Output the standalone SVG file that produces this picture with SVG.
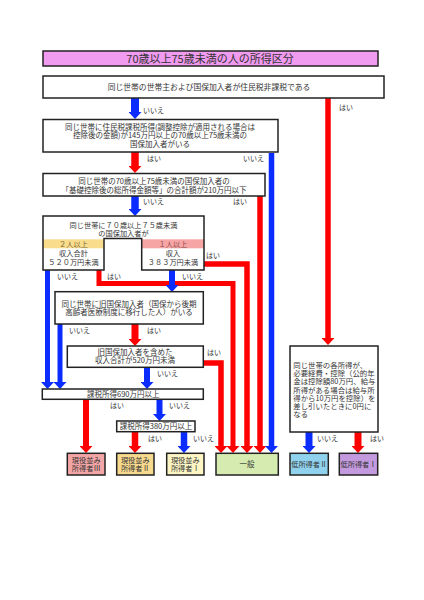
<svg xmlns="http://www.w3.org/2000/svg" width="424" height="600" viewBox="0 0 424 600">
<style>
text{font-family:"Noto Sans CJK JP","Noto Sans",sans-serif;fill:#333;}
.t{font-size:7.5px;text-anchor:middle;}
.tl{font-size:7.4px;}
.lb{font-size:7px;}
.box{fill:#fff;stroke:#222;stroke-width:1.5;}
.res{stroke:#222;stroke-width:1.5;}
.r{fill:none;stroke:#ff0000;stroke-linejoin:miter;}
.b{fill:none;stroke:#0a2cff;stroke-linejoin:miter;}
</style>
<defs>
<marker id="ahr" markerUnits="userSpaceOnUse" viewBox="0 0 7 13" markerWidth="7" markerHeight="13" refX="0" refY="6.5" orient="auto"><path d="M0,0 L7,6.5 L0,13 Z" fill="#ff0000"/></marker>
<marker id="ahb" markerUnits="userSpaceOnUse" viewBox="0 0 7 13" markerWidth="7" markerHeight="13" refX="0" refY="6.5" orient="auto"><path d="M0,0 L7,6.5 L0,13 Z" fill="#0a2cff"/></marker>
</defs>
<rect width="424" height="600" fill="#fff"/>

<g id="title">
<rect x="43" y="51" width="335" height="15" fill="#f09af0" stroke="#222" stroke-width="1.5"/>
<text x="210" y="62.5" style="font-size:11px;text-anchor:middle">70歳以上75歳未満の人の所得区分</text>
</g>

<g id="connectors">
<path class="r" stroke-width="5.5" d="M328,98 V338" marker-end="url(#ahr)"/>
<path class="r" stroke-width="7.5" d="M135,152 V166" marker-end="url(#ahr)"/>
<path class="r" stroke-width="5.5" d="M260,196 V446" marker-end="url(#ahr)"/>
<path class="r" stroke-width="5.5" d="M204,264 H247 V446" marker-end="url(#ahr)"/>
<path class="r" stroke-width="5" d="M99,270 V283.5 H233 V446" marker-end="url(#ahr)"/>
<path class="r" stroke-width="7" d="M135,324 V339" marker-end="url(#ahr)"/>
<path class="r" stroke-width="5.5" d="M203,363 H221 V446" marker-end="url(#ahr)"/>
<path class="r" stroke-width="6" d="M86,399 V446" marker-end="url(#ahr)"/>
<path class="r" stroke-width="6.5" d="M135,432 V446" marker-end="url(#ahr)"/>
<path class="r" stroke-width="7" d="M358,432 V446" marker-end="url(#ahr)"/>
<path class="b" stroke-width="8" d="M135,98 V112" marker-end="url(#ahb)"/>
<path class="b" stroke-width="5.5" d="M271.5,153 V446" marker-end="url(#ahb)"/>
<path class="b" stroke-width="7.5" d="M135,196 V209" marker-end="url(#ahb)"/>
<path class="b" stroke-width="5" d="M47.5,270 V382" marker-end="url(#ahb)"/>
<path class="b" stroke-width="6" d="M172,270 V285" marker-end="url(#ahb)"/>
<path class="b" stroke-width="5" d="M60,324 V382" marker-end="url(#ahb)"/>
<path class="b" stroke-width="6" d="M147,367 V382" marker-end="url(#ahb)"/>
<path class="b" stroke-width="6" d="M159.5,399 V414" marker-end="url(#ahb)"/>
<path class="b" stroke-width="6.5" d="M184,432 V446" marker-end="url(#ahb)"/>
<path class="b" stroke-width="7" d="M309,432 V446" marker-end="url(#ahb)"/>
</g>

<g id="labels" class="lb">
<text x="143" y="113">いいえ</text>
<text x="339" y="110">はい</text>
<text x="147" y="161">はい</text>
<text x="243" y="161">いいえ</text>
<text x="143" y="204">いいえ</text>
<text x="233" y="204">はい</text>
<text x="206" y="258">はい</text>
<text x="57" y="279">いいえ</text>
<text x="107" y="279">はい</text>
<text x="182" y="279">いいえ</text>
<text x="69" y="333">いいえ</text>
<text x="147" y="333">はい</text>
<text x="207" y="355">はい</text>
<text x="157" y="376">いいえ</text>
<text x="110" y="408">はい</text>
<text x="169" y="408">いいえ</text>
<text x="148" y="441">はい</text>
<text x="193" y="441">いいえ</text>
<text x="317" y="441">いいえ</text>
<text x="370" y="441">はい</text>
</g>

<g id="q1">
<rect class="box" x="43" y="76" width="341" height="22"/>
<text class="t" x="209" y="90" style="font-size:7.8px">同じ世帯の世帯主および国保加入者が住民税非課税である</text>
</g>

<g id="q2">
<rect class="box" x="43" y="119.5" width="235" height="32.5"/>
<text class="t" x="160" y="129.8">同じ世帯に住民税課税所得(調整控除が適用される場合は</text>
<text class="t" x="160" y="138.3">控除後の金額)が145万円以上の70歳以上75歳未満の</text>
<text class="t" x="160" y="146.8">国保加入者がいる</text>
</g>

<g id="q3">
<rect class="box" x="43" y="173.5" width="222" height="22.5"/>
<text class="t" x="154" y="184">同じ世帯の70歳以上75歳未満の国保加入者の</text>
<text class="t" x="154" y="192.5">「基礎控除後の総所得金額等」の合計額が210万円以下</text>
</g>

<g id="q4">
<path d="M43,216 H204 V270 H141.7 V238.5 H104 V270 H43 Z" fill="#fff"/>
<rect x="43" y="239.3" width="61" height="9" fill="#f9dc8c"/>
<rect x="141.7" y="239.3" width="62.3" height="9" fill="#f6a4a4"/>
<path d="M43,216 H204 V270 H141.7 V238.5 H104 V270 H43 Z" fill="none" stroke="#222" stroke-width="1.5"/>
<text class="t" x="123.5" y="227.8" style="font-size:7.2px">同じ世帯に７０歳以上７５歳未満</text>
<text class="t" x="123.5" y="235.5" style="font-size:7.2px">の国保加入者が</text>
<text class="t" x="73.5" y="246.6" style="font-size:7.2px;fill:#7a6a3a">２人以上</text>
<text class="t" x="173" y="246.6" style="font-size:7.2px;fill:#8a4a4a">１人以上</text>
<text class="t" x="73.5" y="256" style="font-size:7.2px">収入合計</text>
<text class="t" x="73.5" y="265.3" style="font-size:7.2px">５２０万円未満</text>
<text class="t" x="173" y="256" style="font-size:7.2px">収入</text>
<text class="t" x="173" y="265.3" style="font-size:7.2px">３８３万円未満</text>
</g>

<g id="q5">
<rect class="box" x="55" y="291.7" width="148.3" height="32.3"/>
<text class="t" x="129" y="307">同じ世帯に旧国保加入者（国保から後期</text>
<text class="t" x="129" y="315.3">高齢者医療制度に移行した人）がいる</text>
</g>

<g id="q6">
<rect class="box" x="67.3" y="346" width="136" height="21.3"/>
<text class="t" x="135" y="355">旧国保加入者を含めた</text>
<text class="t" x="135" y="363.3">収入合計が520万円未満</text>
</g>

<g id="q7">
<rect class="box" x="42.3" y="389" width="161" height="10.3"/>
<text class="t" x="123.3" y="396.8">課税所得690万円以上</text>
</g>

<g id="q8">
<rect class="box" x="116.7" y="421" width="78.3" height="10.7"/>
<text class="t" x="156" y="429">課税所得380万円以上</text>
</g>

<g id="q9">
<rect class="box" x="290" y="346" width="88" height="86"/>
<text class="tl" x="293.3" y="367.6">同じ世帯の各所得が、</text>
<text class="tl" x="293.3" y="375.9">必要経費・控除（公的年</text>
<text class="tl" x="293.3" y="384.2">金は控除額80万円、給与</text>
<text class="tl" x="293.3" y="392.5">所得がある場合は給与所</text>
<text class="tl" x="293.3" y="400.8">得から10万円を控除）を</text>
<text class="tl" x="293.3" y="409.1">差し引いたときに0円に</text>
<text class="tl" x="293.3" y="417.4">なる</text>
</g>

<g id="r1">
<rect class="res" x="67.3" y="453.3" width="37.7" height="21.7" fill="#f4a6a6"/>
<text class="t" x="86.2" y="463.3" style="font-size:7.2px">現役並み</text>
<text class="t" x="86.2" y="471.2" style="font-size:7.2px">所得者Ⅲ</text>
</g>
<g id="r2">
<rect class="res" x="116.7" y="453.3" width="37.3" height="21.7" fill="#f8da8e"/>
<text class="t" x="135.3" y="463.3" style="font-size:7.2px">現役並み</text>
<text class="t" x="135.3" y="471.2" style="font-size:7.2px">所得者Ⅱ</text>
</g>
<g id="r3">
<rect class="res" x="166.7" y="453.3" width="37.3" height="21.7" fill="#fdf6c4"/>
<text class="t" x="185.3" y="463.3" style="font-size:7.2px">現役並み</text>
<text class="t" x="185.3" y="471.2" style="font-size:7.2px">所得者Ⅰ</text>
</g>
<g id="r4">
<rect class="res" x="216" y="453.3" width="62.3" height="21.7" fill="#d5ebb0"/>
<text class="t" x="247" y="466.8">一般</text>
</g>
<g id="r5">
<rect class="res" x="290" y="453.3" width="38.3" height="21.7" fill="#90d2ee"/>
<text class="t" x="309.2" y="466.8" style="font-size:7.2px">低所得者Ⅱ</text>
</g>
<g id="r6">
<rect class="res" x="339.3" y="453.3" width="38.4" height="21.7" fill="#c49ade"/>
<text class="t" x="358.5" y="466.8" style="font-size:7.2px">低所得者Ⅰ</text>
</g>
</svg>
